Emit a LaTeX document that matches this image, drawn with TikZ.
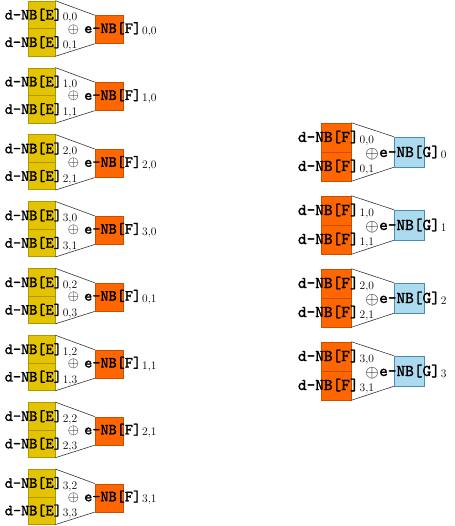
\documentclass[tikz,border=0pt]{standalone}
\usepackage{fontspec}
\newfontfamily\nbtt{lmmono10-regular.otf}[FakeBold=1.6]
\usepackage{tikz}
\usetikzlibrary{positioning}
\definecolor{nbyellow}{RGB}{228,196,0}
\definecolor{nbyellowline}{RGB}{176,150,0}
\definecolor{nborange}{RGB}{255,102,0}
\definecolor{nborangeline}{RGB}{200,78,0}
\definecolor{nbblue}{RGB}{172,218,238}
\definecolor{nbblueline}{RGB}{72,140,180}
\newcommand{\nbsub}[1]{\kern1pt\raisebox{-1.5pt}{\normalfont\fontsize{11.5}{12}\selectfont #1}}
\tikzset{%
  eblock/.style = {draw=nbyellowline, fill=nbyellow, line width=0.6pt, rectangle,
    inner sep=0pt, minimum width=27pt, minimum height=27.5pt}, % E halves
  fblock/.style = {draw=nborangeline, fill=nborange, line width=0.6pt, rectangle,
    inner sep=0pt, minimum width=28pt, minimum height=28pt}, % reduced F
  fhalf/.style  = {fblock, minimum width=30pt, minimum height=29pt}, % F halves
  gblock/.style = {draw=nbblueline, fill=nbblue, line width=0.6pt, rectangle,
    inner sep=0pt, minimum width=30pt, minimum height=30pt}, % reduced G
  edge/.style   = {draw=black!80, line width=0.6pt},
  lab/.style    = {font=\nbtt\fontsize{15.5}{17}\selectfont, inner sep=0pt, anchor=base},
  labr/.style   = {font=\nbtt\fontsize{16.5}{18}\selectfont, inner sep=0pt, anchor=base},
  sumsign/.style = {font=\fontsize{15}{16}\selectfont, inner sep=0pt}
}

\begin{document}
\begin{tikzpicture}[x=1pt, y=-1pt, node distance=27.5pt]
  \useasboundingbox (0,0) rectangle (454,526);

  % left column: E pairs into F
  \foreach \k in {0,...,7} {
    \pgfmathsetmacro\T{1+66.9*\k}
    \pgfmathtruncatemacro\rw{mod(\k,4)}
    \pgfmathtruncatemacro\ca{\k<4 ? 0 : 2}
    \pgfmathtruncatemacro\cb{\ca+1}
    \pgfmathtruncatemacro\co{\k<4 ? 0 : 1}
    \draw node at (41.5,\T+13.75) [eblock] (ea\k) {};
    \draw node [eblock, below of=ea\k] (eb\k) {};
    \draw node at (109,\T+28.5) [fblock] (fo\k) {};
    \draw[edge] (ea\k.north east) -- (fo\k.north west);
    \draw[edge] (eb\k.south east) -- (fo\k.south west);
    \draw node at (41,\T+18.5) [lab] (la\k) {d-NB[E]\nbsub{\rw,\ca}};
    \draw node at (41,\T+46) [lab] (lb\k) {d-NB[E]\nbsub{\rw,\cb}};
    \draw node at (73.5,\T+28.5) [sumsign] (sum\k) {$\oplus$};
    \draw node at (84,\T+32) [lab, anchor=base west] (lo\k) {e-NB[F]\nbsub{\rw,\co}};
  }

  % right column: F pairs into G
  \foreach \j in {0,...,3} {
    \pgfmathsetmacro\T{123+73*\j}
    \draw node at (336,\T+14.5) [fhalf] (fa\j) {};
    \draw node [fhalf, below of=fa\j, node distance=29pt] (fb\j) {};
    \draw node at (409,\T+29) [gblock] (go\j) {};
    \draw[edge] (fa\j.north east) -- (go\j.north west);
    \draw[edge] (fb\j.south east) -- (go\j.south west);
    \draw node at (336,\T+19) [labr] (ra\j) {d-NB[F]\nbsub{\j,0}};
    \draw node at (336,\T+48) [labr] (rb\j) {d-NB[F]\nbsub{\j,1}};
    \draw node at (372,\T+31) [sumsign, font=\fontsize{16}{17}\selectfont] (rsum\j) {$\oplus$};
    \draw node at (379,\T+34) [labr, anchor=base west] (ro\j) {e-NB[G]\nbsub{\j}};
  }
\end{tikzpicture}
\end{document}
